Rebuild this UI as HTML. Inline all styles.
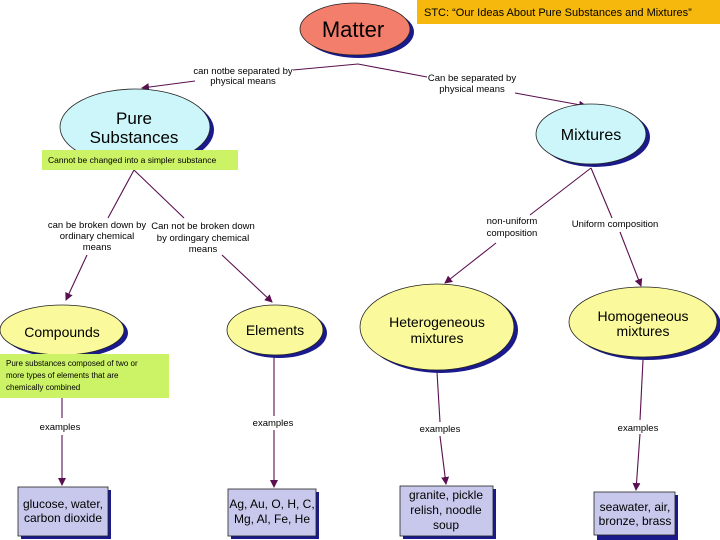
<!DOCTYPE html>
<html><head><style>
body{margin:0;background:#fff;}
svg{display:block;font-family:"Liberation Sans",Arial,sans-serif;}
.l{font-size:9.5px;fill:#000;}
.n{fill:#000;}
</style></head><body>
<svg width="720" height="540" viewBox="0 0 720 540" xmlns="http://www.w3.org/2000/svg">
<defs>
<marker id="a" markerWidth="8" markerHeight="8" refX="7" refY="4" orient="auto" markerUnits="userSpaceOnUse">
<path d="M0,0 L8,4 L0,8 z" fill="#5a1050"/></marker>
</defs>
<g stroke="#5a1050" stroke-width="1.1" fill="none">
<path d="M358,64 L293,70"/>
<path d="M195,81 L142,88" marker-end="url(#a)"/>
<path d="M358,64 L427,77"/>
<path d="M515,93 L586,106" marker-end="url(#a)"/>
<path d="M134,170 L108,218"/>
<path d="M87,255 L66,300" marker-end="url(#a)"/>
<path d="M134,170 L184,218"/>
<path d="M222,255 L272,302" marker-end="url(#a)"/>
<path d="M591,168 L530,215"/>
<path d="M496,243 L445,283" marker-end="url(#a)"/>
<path d="M591,168 L612,218"/>
<path d="M620,232 L641,286" marker-end="url(#a)"/>
<path d="M62,398 L62,418"/><path d="M62,435 L62,485" marker-end="url(#a)"/>
<path d="M274,356 L274,416"/><path d="M274,430 L274,487" marker-end="url(#a)"/>
<path d="M437,372 L440,422"/><path d="M440,436 L446,484" marker-end="url(#a)"/>
<path d="M643,360 L640,420"/><path d="M640,434 L636,490" marker-end="url(#a)"/>
</g>
<ellipse cx="359" cy="32" rx="55" ry="26" fill="#1a1a8c"/>
<ellipse cx="355" cy="29" rx="55" ry="26" fill="#f47e6c" stroke="#222" stroke-width="0.8"/>
<text x="353" y="37" text-anchor="middle" font-size="22" class="n">Matter</text>

<ellipse cx="139" cy="130" rx="75" ry="38" fill="#1a1a8c"/>
<ellipse cx="135" cy="127" rx="75" ry="38" fill="#ccf6fa" stroke="#222" stroke-width="0.8"/>
<text x="134" y="124" text-anchor="middle" font-size="17" class="n">Pure</text>
<text x="134" y="143" text-anchor="middle" font-size="17" class="n">Substances</text>

<ellipse cx="595" cy="137" rx="55" ry="30" fill="#1a1a8c"/>
<ellipse cx="591" cy="134" rx="55" ry="30" fill="#ccf6fa" stroke="#222" stroke-width="0.8"/>
<text x="591" y="140" text-anchor="middle" font-size="16" class="n">Mixtures</text>

<ellipse cx="66" cy="333" rx="62" ry="25" fill="#1a1a8c"/>
<ellipse cx="62" cy="330" rx="62" ry="25" fill="#fafa9c" stroke="#222" stroke-width="0.8"/>
<text x="62" y="337" text-anchor="middle" font-size="14" class="n">Compounds</text>

<ellipse cx="279" cy="333" rx="48" ry="25" fill="#1a1a8c"/>
<ellipse cx="275" cy="330" rx="48" ry="25" fill="#fafa9c" stroke="#222" stroke-width="0.8"/>
<text x="275" y="335" text-anchor="middle" font-size="14" class="n">Elements</text>

<ellipse cx="441" cy="330" rx="77" ry="43" fill="#1a1a8c"/>
<ellipse cx="437" cy="327" rx="77" ry="43" fill="#fafa9c" stroke="#222" stroke-width="0.8"/>
<text x="437" y="327" text-anchor="middle" font-size="14" class="n">Heterogeneous</text>
<text x="437" y="343" text-anchor="middle" font-size="14" class="n">mixtures</text>

<ellipse cx="647" cy="325" rx="74" ry="35" fill="#1a1a8c"/>
<ellipse cx="643" cy="322" rx="74" ry="35" fill="#fafa9c" stroke="#222" stroke-width="0.8"/>
<text x="643" y="321" text-anchor="middle" font-size="14" class="n">Homogeneous</text>
<text x="643" y="336" text-anchor="middle" font-size="14" class="n">mixtures</text>

<g stroke="#222" stroke-width="0.8">
<rect x="21" y="490" width="90" height="49" fill="#1a1a8c" stroke="none"/>
<rect x="18" y="487" width="90" height="49" fill="#c8c8ec"/>
<rect x="231" y="492" width="88" height="47" fill="#1a1a8c" stroke="none"/>
<rect x="228" y="489" width="88" height="47" fill="#c8c8ec"/>
<rect x="403" y="489" width="93" height="50" fill="#1a1a8c" stroke="none"/>
<rect x="400" y="486" width="93" height="50" fill="#c8c8ec"/>
<rect x="597" y="495" width="81" height="45" fill="#1a1a8c" stroke="none"/>
<rect x="594" y="492" width="81" height="43" fill="#c8c8ec"/>
</g>
<g font-size="12" text-anchor="middle" class="n">
<text x="63" y="508">glucose, water,</text><text x="63" y="522">carbon dioxide</text>
<text x="272" y="508">Ag, Au, O, H, C,</text><text x="272" y="523">Mg, Al, Fe, He</text>
<text x="446" y="499">granite, pickle</text><text x="446" y="514">relish, noodle</text><text x="446" y="529">soup</text>
<text x="635" y="511">seawater, air,</text><text x="635" y="525">bronze, brass</text>
</g>

<g class="l" text-anchor="middle">
<text x="243" y="74">can notbe separated by</text><text x="243" y="84">physical means</text>
<text x="472" y="81">Can be separated by</text><text x="472" y="92">physical means</text>
<text x="97" y="228">can be broken down by</text><text x="97" y="239">ordinary chemical</text><text x="97" y="250">means</text>
<text x="203" y="229">Can not be broken down</text><text x="203" y="241">by ordingary chemical</text><text x="203" y="252">means</text>
<text x="512" y="224">non-uniform</text><text x="512" y="236">composition</text>
<text x="615" y="227">Uniform composition</text>
<text x="60" y="430">examples</text>
<text x="273" y="426">examples</text>
<text x="440" y="432">examples</text>
<text x="638" y="431">examples</text>
</g>

<rect x="417" y="0" width="303" height="24" fill="#f6b80c"/>
<text x="424" y="16" font-size="11" class="n">STC: “Our Ideas About Pure Substances and Mixtures”</text>
<rect x="42" y="150" width="196" height="20" fill="#ccf266"/>
<text x="48" y="163" font-size="8.5" class="n">Cannot be changed into a simpler substance</text>
<rect x="0" y="354" width="169" height="44" fill="#ccf266"/>
<text x="6" y="366" font-size="8" class="n">Pure substances composed of two or</text>
<text x="6" y="378" font-size="8" class="n">more types of elements that are</text>
<text x="6" y="390" font-size="8" class="n">chemically combined</text>
</svg>
</body></html>
